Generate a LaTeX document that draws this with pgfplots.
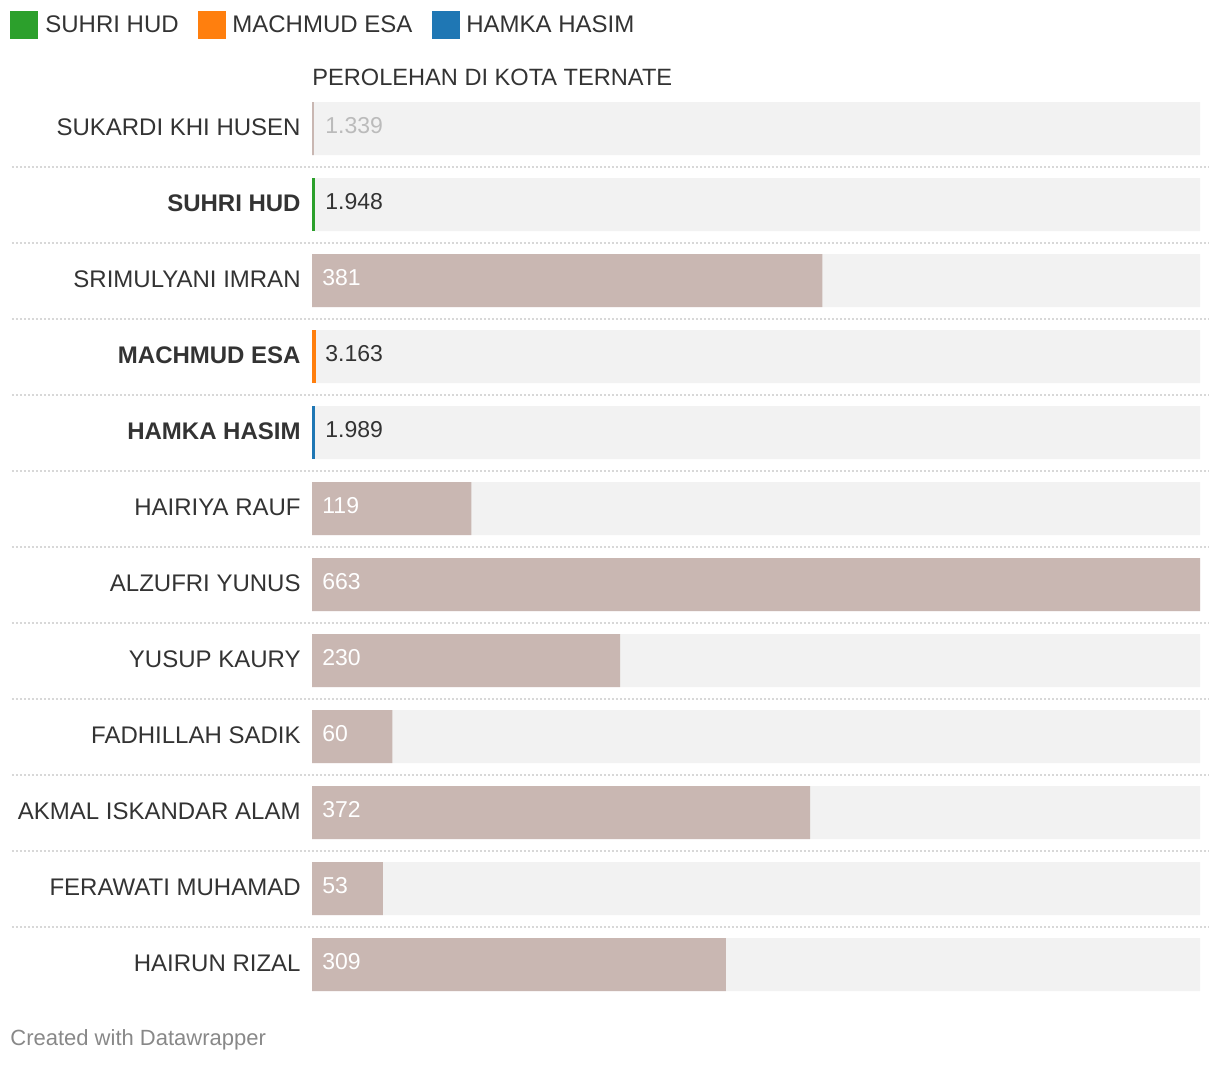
\documentclass[border=0pt]{standalone}
\usepackage{pgfplots}
\pgfplotsset{compat=1.18}
\usepackage{fontspec}
\setmainfont{Liberation Sans}
\definecolor{bgc}{HTML}{F2F2F2}
\definecolor{barc}{HTML}{C9B7B2}
\definecolor{cgreen}{HTML}{2CA02C}
\definecolor{corange}{HTML}{FF7F0E}
\definecolor{cblue}{HTML}{1F77B4}
\definecolor{txt}{HTML}{333333}
\definecolor{lightv}{HTML}{BBBBBB}
\definecolor{sepc}{HTML}{D8D8D8}
\definecolor{foot}{HTML}{888888}
\begin{document}
\begin{tikzpicture}
\path[use as bounding box] (0,0) rectangle (610pt,-533pt);
% legend
\fill[cgreen] (5pt,-5.5pt) rectangle (19pt,-19.5pt);
\node[anchor=west,inner sep=0pt,text=txt,font=\fontsize{12}{14}\selectfont] at (22.5pt,-12pt) {SUHRI HUD};
\fill[corange] (99pt,-5.5pt) rectangle (113pt,-19.5pt);
\node[anchor=west,inner sep=0pt,text=txt,font=\fontsize{12}{14}\selectfont] at (116pt,-12pt) {MACHMUD ESA};
\fill[cblue] (216pt,-5.5pt) rectangle (230pt,-19.5pt);
\node[anchor=west,inner sep=0pt,text=txt,font=\fontsize{12}{14}\selectfont] at (233pt,-12pt) {HAMKA HASIM};
% title
\node[anchor=west,inner sep=0pt,text=txt,font=\fontsize{11.8}{14}\selectfont] at (156pt,-38.5pt) {PEROLEHAN DI KOTA TERNATE};
% footer
\node[anchor=west,inner sep=0pt,text=foot,font=\fontsize{11}{13}\selectfont] at (5pt,-520pt) {Created with Datawrapper};
\begin{axis}[
  at={(156pt,-45.25pt)}, anchor=north west,
  scale only axis, width=444pt, height=456pt,
  xmin=0, xmax=663, ymin=-0.5, ymax=11.5,
  y dir=reverse,
  clip=false,
  axis line style={draw=none},
  tick style={draw=none},
  xtick=\empty,
  ytick={0,...,11},
  yticklabels={SUKARDI KHI HUSEN,\textbf{SUHRI HUD},SRIMULYANI IMRAN,\textbf{MACHMUD ESA},\textbf{HAMKA HASIM},HAIRIYA RAUF,ALZUFRI YUNUS,YUSUP KAURY,FADHILLAH SADIK,AKMAL ISKANDAR ALAM,FERAWATI MUHAMAD,HAIRUN RIZAL},
  yticklabel style={anchor=east, inner sep=0pt, xshift=-5.5pt, yshift=0.75pt, text=txt, font=\fontsize{12}{14}\selectfont},
]
% background bars
\addplot[xbar, bar width=26.5pt, bar shift=0pt, fill=bgc, draw=none] coordinates {
 (663,0) (663,1) (663,2) (663,3) (663,4) (663,5) (663,6) (663,7) (663,8) (663,9) (663,10) (663,11)};
% main bars
\addplot[xbar, bar width=26.5pt, bar shift=0pt, fill=barc, draw=none] coordinates {
 (1.339,0) (381,2) (119,5) (663,6) (230,7) (60,8) (372,9) (53,10) (309,11)};
\addplot[xbar, bar width=26.5pt, bar shift=0pt, fill=cgreen, draw=none] coordinates {(1.948,1)};
\addplot[xbar, bar width=26.5pt, bar shift=0pt, fill=corange, draw=none] coordinates {(3.163,3)};
\addplot[xbar, bar width=26.5pt, bar shift=0pt, fill=cblue, draw=none] coordinates {(1.989,4)};
% value labels
\addplot[draw=none, mark=none, nodes near coords, point meta=explicit symbolic,
  every node near coord/.style={anchor=west, inner sep=0pt, xshift=5pt, yshift=1.5pt, text=white, font=\fontsize{11.5}{14}\selectfont}]
 coordinates {(0,2) [381] (0,5) [119] (0,6) [663] (0,7) [230] (0,8) [60] (0,9) [372] (0,10) [53] (0,11) [309]};
\addplot[draw=none, mark=none, nodes near coords, point meta=explicit symbolic,
  every node near coord/.style={anchor=west, inner sep=0pt, xshift=6.5pt, yshift=1.5pt, text=lightv, font=\fontsize{11.5}{14}\selectfont}]
 coordinates {(0,0) [1.339]};
\addplot[draw=none, mark=none, nodes near coords, point meta=explicit symbolic,
  every node near coord/.style={anchor=west, inner sep=0pt, xshift=6.5pt, yshift=1.5pt, text=txt, font=\fontsize{11.5}{14}\selectfont}]
 coordinates {(0,1) [1.948] (0,3) [3.163] (0,4) [1.989]};
% separators
\pgfplotsinvokeforeach{0,...,10}{
  \draw[sepc, line width=1pt, dash pattern=on 1pt off 1pt] (axis cs:-224,#1+0.5) -- (axis cs:669,#1+0.5);
}
\end{axis}
\end{tikzpicture}
\end{document}
